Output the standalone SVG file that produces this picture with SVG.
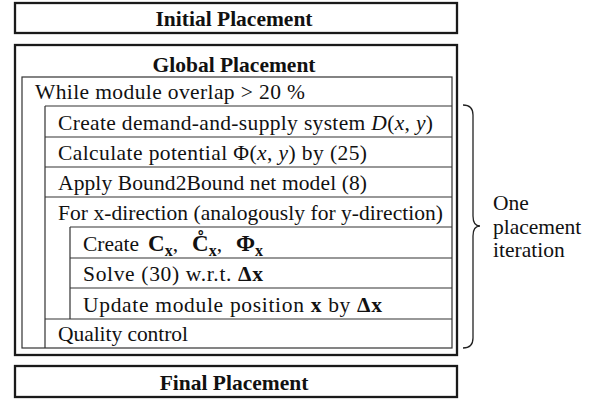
<svg xmlns="http://www.w3.org/2000/svg" width="597" height="400" viewBox="0 0 597 400">
<style>
.thick{fill:none;stroke:#1a1a1a;stroke-width:2.3}
.thin{fill:none;stroke:#333;stroke-width:1.2}
.t{font-family:"Liberation Serif","Times New Roman",serif;font-size:21.5px;fill:#111}
.b{font-weight:bold}
.i{font-style:italic}
.sub{font-weight:bold;font-size:16px}
.title{font-family:"Liberation Serif","Times New Roman",serif;font-size:21.5px;font-weight:bold;fill:#111;text-anchor:middle}
</style>
<rect width="597" height="400" fill="#fff"/>
<g id="initial">
<rect class="thick" x="15" y="3" width="442" height="30"/>
<text class="title" x="234" y="26">Initial Placement</text>
</g>
<g id="global">
<rect class="thick" x="15" y="45" width="442" height="310"/>
<text class="title" x="234" y="72">Global Placement</text>
</g>
<g id="while">
<rect class="thin" x="22" y="77" width="430" height="271"/>
<text class="t" x="35" y="99" textLength="270" lengthAdjust="spacing">While module overlap &gt; 20 %</text>
</g>
<g id="lines">
<path class="thin" d="M45,106H452M45,137H452M45,167H452M45,197H452M70,227H452M70,258H452M70,288H452M45,319H452M45,106V348M70,227V319"/>
</g>
<g id="demand"><text class="t" x="58" y="130" textLength="375" lengthAdjust="spacing">Create demand-and-supply system <tspan class="i">D</tspan>(<tspan class="i">x</tspan>, <tspan class="i">y</tspan>)</text></g>
<g id="potential"><text class="t" x="58" y="160" textLength="309" lengthAdjust="spacing">Calculate potential Φ(<tspan class="i">x</tspan>, <tspan class="i">y</tspan>) by (25)</text></g>
<g id="b2b"><text class="t" x="58" y="190" textLength="309" lengthAdjust="spacing">Apply Bound2Bound net model (8)</text></g>
<g id="fordir"><text class="t" x="58" y="220" textLength="385" lengthAdjust="spacing">For x-direction (analogously for y-direction)</text></g>
<g id="createC"><text class="t" x="83" y="251">Create<tspan class="b" x="148" font-size="23">C</tspan><tspan class="sub" dy="5">x</tspan><tspan dy="-5">,</tspan><tspan class="b" x="192" font-size="23">C̊</tspan><tspan class="sub" dy="5">x</tspan><tspan dy="-5">,</tspan><tspan class="b" x="236" font-size="23">Φ</tspan><tspan class="sub" dy="5">x</tspan></text></g>
<g id="solve"><text class="t" x="83" y="281" textLength="180" lengthAdjust="spacing">Solve (30) w.r.t. <tspan class="b">Δx</tspan></text></g>
<g id="update"><text class="t" x="83" y="312" textLength="299" lengthAdjust="spacing">Update module position <tspan class="b">x</tspan> by <tspan class="b">Δx</tspan></text></g>
<g id="quality"><text class="t" x="58" y="341" textLength="130" lengthAdjust="spacing">Quality control</text></g>
<g id="final">
<rect class="thick" x="15" y="366" width="442" height="31"/>
<text class="title" x="234" y="390">Final Placement</text>
</g>
<g id="connectors">
<path d="M463,105Q473,105 473,115V216Q473,226 480,226Q473,226 473,236V338Q473,348 463,348" fill="none" stroke="#222" stroke-width="1.3"/>
</g>
<g id="iteration">
<text class="t" x="493" y="210">One</text>
<text class="t" x="493" y="234">placement</text>
<text class="t" x="493" y="257">iteration</text>
</g>
</svg>
